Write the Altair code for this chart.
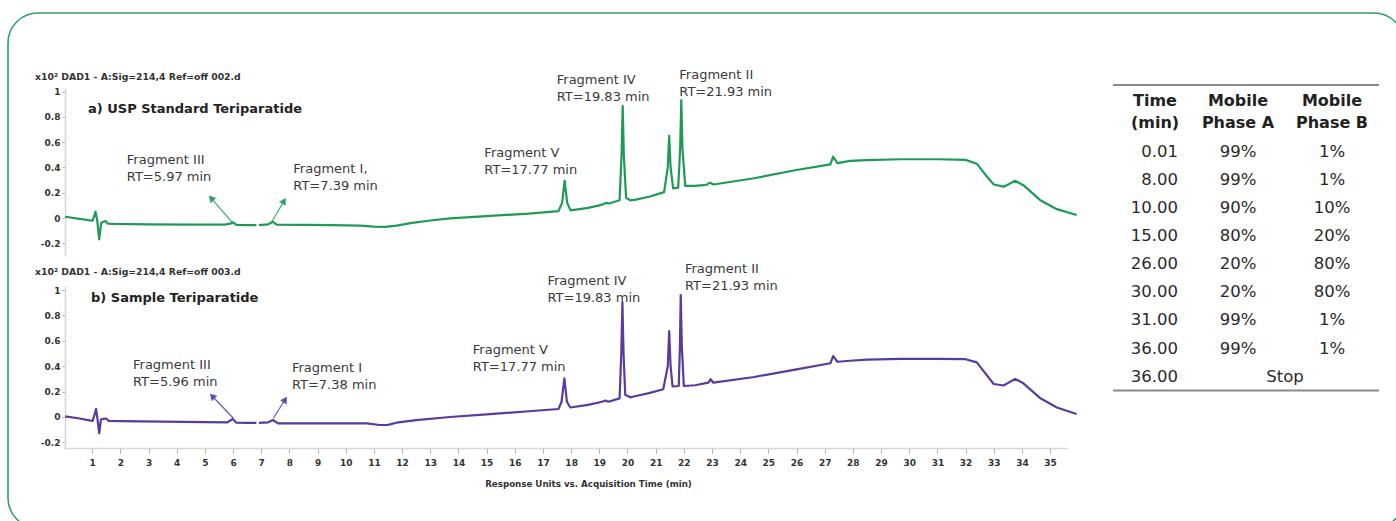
import altair as alt
import pandas as pd

# ---------------------------------------------------------------------------
# Chromatogram traces: acquisition time (min) and response (x10^2)
# ---------------------------------------------------------------------------
std_time = [0.04, 0.5, 0.95, 1.02, 1.12, 1.18, 1.25, 1.32, 1.40, 1.48, 1.56, 1.8,
            3.0, 4.5, 5.7, 5.9, 6.0, 6.12, 6.5, 6.83,
            6.92, 7.25, 7.41, 7.55, 8.5, 9.5, 10.5, 11.0, 11.4, 11.8, 12.3, 13.0,
            13.7, 15.0, 16.5, 17.55, 17.68, 17.77, 17.86, 17.98, 18.6, 19.0, 19.15,
            19.25, 19.35, 19.72, 19.79, 19.83, 19.87, 19.95, 20.1, 20.3, 20.8, 21.3,
            21.43, 21.48, 21.53, 21.62, 21.8, 21.87, 21.91, 21.95, 22.05, 22.4, 22.8,
            22.93, 23.05, 24.5, 26.0, 27.2, 27.3, 27.45, 27.9, 28.5, 29.7, 31.0,
            32.0, 32.4, 32.75, 33.0, 33.35, 33.55, 33.76, 34.05, 34.64, 35.24, 35.94]
std_signal = [0.01, -0.005, -0.02, -0.02, 0.05, -0.02, -0.17, -0.04, -0.03, -0.025, -0.045, -0.047,
              -0.05, -0.052, -0.053, -0.045, -0.034, -0.055, -0.057, -0.057,
              -0.057, -0.05, -0.03, -0.053, -0.055, -0.057, -0.06, -0.068, -0.07, -0.06, -0.04, -0.02,
              -0.003, 0.015, 0.035, 0.055, 0.12, 0.295, 0.12, 0.06, 0.08, 0.1, 0.11,
              0.12, 0.115, 0.14, 0.5, 0.887, 0.5, 0.16, 0.14, 0.145, 0.17, 0.205,
              0.4, 0.65, 0.4, 0.235, 0.24, 0.55, 0.934, 0.55, 0.255, 0.255, 0.262,
              0.28, 0.265, 0.315, 0.38, 0.425, 0.485, 0.435, 0.452, 0.458, 0.465, 0.465,
              0.46, 0.43, 0.33, 0.265, 0.248, 0.27, 0.295, 0.26, 0.143, 0.07, 0.024]

smp_time = [0.04, 0.5, 0.95, 1.02, 1.14, 1.19, 1.25, 1.31, 1.40, 1.50, 1.58, 2.0,
            3.5, 5.0, 5.8, 5.99, 6.12, 6.5, 6.83,
            6.92, 7.25, 7.41, 7.6, 9.0, 10.75, 11.2, 11.5, 11.8, 12.5, 13.7,
            15.0, 16.5, 17.55, 17.66, 17.76, 17.85, 17.97, 18.6, 19.1, 19.22, 19.32,
            19.72, 19.78, 19.82, 19.86, 19.92, 20.1, 20.3, 20.8, 21.27, 21.43, 21.48,
            21.53, 21.6, 21.82, 21.86, 21.89, 21.93, 22.0, 22.4, 22.87, 22.95, 23.05,
            24.5, 26.0, 27.2, 27.3, 27.45, 27.9, 28.5, 29.7, 31.0, 32.0, 32.4, 32.75,
            33.0, 33.35, 33.76, 34.05, 34.64, 35.24, 35.94]
smp_signal = [0.005, -0.01, -0.028, -0.03, 0.063, -0.02, -0.128, -0.02, -0.015, -0.012, -0.03, -0.032,
              -0.037, -0.04, -0.042, -0.016, -0.045, -0.047, -0.047,
              -0.047, -0.042, -0.024, -0.05, -0.05, -0.05, -0.063, -0.062, -0.045, -0.025, 0.0,
              0.02, 0.045, 0.063, 0.12, 0.305, 0.12, 0.075, 0.095, 0.12, 0.13, 0.12,
              0.147, 0.5, 0.9, 0.5, 0.175, 0.155, 0.165, 0.19, 0.218, 0.4, 0.677,
              0.4, 0.24, 0.244, 0.55, 0.96, 0.55, 0.244, 0.25, 0.27, 0.297, 0.27,
              0.315, 0.375, 0.423, 0.48, 0.435, 0.443, 0.452, 0.458, 0.458, 0.455, 0.43, 0.33,
              0.26, 0.248, 0.3, 0.265, 0.15, 0.075, 0.024]

# Peak labels (position of the first text line) and arrows to the minor fragments
std_labels = ["Fragment III\nRT=5.97 min", "Fragment I,\nRT=7.39 min",
              "Fragment V\nRT=17.77 min", "Fragment IV\nRT=19.83 min",
              "Fragment II\nRT=21.93 min"]
std_label_t = [2.23, 8.14, 14.92, 17.49, 21.84]
std_label_v = [0.459, 0.386, 0.517, 1.093, 1.132]

smp_labels = ["Fragment III\nRT=5.96 min", "Fragment I\nRT=7.38 min",
              "Fragment V\nRT=17.77 min", "Fragment IV\nRT=19.83 min",
              "Fragment II\nRT=21.93 min"]
smp_label_t = [2.45, 8.09, 14.51, 17.16, 22.04]
smp_label_v = [0.409, 0.388, 0.528, 1.073, 1.163]

std_arrow_t0 = [6.0, 7.38]
std_arrow_v0 = [-0.04, -0.03]
std_arrow_t1 = [5.22, 7.81]
std_arrow_v1 = [0.158, 0.135]
std_arrow_angle = [318, 31]

smp_arrow_t0 = [6.01, 7.43]
smp_arrow_v0 = [-0.01, -0.01]
smp_arrow_t1 = [5.26, 7.85]
smp_arrow_v1 = [0.165, 0.138]
smp_arrow_angle = [316, 33]

# Gradient program table
grad_time = ["0.01", "8.00", "10.00", "15.00", "26.00", "30.00", "31.00", "36.00", "36.00"]
grad_a = ["99%", "99%", "90%", "80%", "20%", "20%", "99%", "99%", ""]
grad_b = ["1%", "1%", "10%", "20%", "80%", "80%", "1%", "1%", ""]
grad_note = ["", "", "", "", "", "", "", "", "Stop"]

y_ticks = [-0.2, 0, 0.2, 0.4, 0.6, 0.8, 1]
x_ticks = list(range(1, 36))

GREEN = "#1f9a56"
PURPLE = "#5a3b9c"
BORDER = "#2aa06a"
FONT = "DejaVu Sans"
TXT = "#3a3a3a"

one = pd.DataFrame({"k": [0]})

y_label_expr = ("abs(datum.value) < 1e-9 ? '0' : abs(datum.value - 1) < 1e-9 ? '1' : "
                "(datum.value < 0 ? '-' + format(-datum.value, '.1f') : format(datum.value, '.1f'))")


def y_axis():
    return alt.Axis(orient="left", offset=-65, values=y_ticks, labelExpr=y_label_expr,
                    grid=False, title=None, domainColor="#d6d6d6", domainWidth=1.5,
                    tickColor="#b0b0b0", tickSize=3, labelPadding=2, labelFont=FONT,
                    labelFontSize=9, labelFontWeight="bold", labelColor="#333333")


def panel(time, signal, labels, lt, lv, a_t0, a_v0, a_t1, a_v1, a_ang, color,
          y_domain, y_range, show_x):
    xs = alt.Scale(domain=[0, 35.6], range=[64, 1067], nice=False, zero=False)
    ys = alt.Scale(domain=y_domain, range=y_range, nice=False, zero=False)
    if show_x:
        xax = alt.Axis(orient="bottom", offset=-73, values=x_ticks, format="d", grid=False,
                       domainColor="#d6d6d6", domainWidth=1.5, tickColor="#b0b0b0",
                       tickSize=5, labelPadding=5, labelFont=FONT, labelFontSize=9,
                       labelFontWeight="bold", labelColor="#333333", labelOverlap=False,
                       labelFlush=False,
                       title="Response Units vs. Acquisition Time (min)",
                       titleX=588, titleY=35, titleBaseline="middle", titleFont=FONT,
                       titleFontSize=8.7, titleFontWeight="bold", titleColor="#333333")
    else:
        xax = None

    def X(f):
        if xax is None:
            return alt.X(f, type="quantitative", scale=xs, axis=None)
        return alt.X(f, type="quantitative", scale=xs, axis=xax)

    def Y(f):
        return alt.Y(f, type="quantitative", scale=ys, axis=y_axis())

    trace = pd.DataFrame({"t": time, "v": signal})
    trace["seg"] = [0 if t < 6.87 else 1 for t in time]
    line = alt.Chart(trace).mark_line(color=color, strokeWidth=2.2, clip=False,
                                      strokeJoin="round").encode(
        x=X("t"), y=Y("v"), detail="seg:N")

    lab = pd.DataFrame({"label": labels, "t": lt, "v": lv})
    text = alt.Chart(lab).mark_text(align="left", baseline="middle", lineBreak="\n",
                                    lineHeight=17, font=FONT, fontSize=13, color=TXT,
                                    clip=False).encode(x=X("t"), y=Y("v"), text="label:N")

    arr = pd.DataFrame({"t0": a_t0, "v0": a_v0, "t1": a_t1, "v1": a_v1, "ang": a_ang})
    shaft = alt.Chart(arr).mark_rule(color=color, strokeWidth=1.2, opacity=0.85).encode(
        x=X("t0"), y=Y("v0"), x2="t1:Q", y2="v1:Q")
    head = alt.Chart(arr).mark_point(shape="triangle-up", filled=True, size=60,
                                     color=color, opacity=0.9).encode(
        x=X("t1"), y=Y("v1"), angle=alt.Angle("ang:Q", scale=None))

    return alt.layer(line, shaft, head, text)


top = panel(std_time, std_signal, std_labels, std_label_t, std_label_v,
            std_arrow_t0, std_arrow_v0, std_arrow_t1, std_arrow_v1, std_arrow_angle,
            GREEN, [-0.3, 1.03], [255.9, 87.9], False)
bottom = panel(smp_time, smp_signal, smp_labels, smp_label_t, smp_label_v,
               smp_arrow_t0, smp_arrow_v0, smp_arrow_t1, smp_arrow_v1, smp_arrow_angle,
               PURPLE, [-0.245, 1.03], [448.1, 286.2], True)

# Gradient table
rows = pd.DataFrame({"row": list(range(len(grad_time))), "time": grad_time,
                     "a": grad_a, "b": grad_b, "note": grad_note})
ry = alt.Y("row:Q", scale=alt.Scale(domain=[0, 8], range=[151.7, 376.7], nice=False,
                                    zero=False), axis=None)
tbl_base = alt.Chart(rows)
tbl_kw = dict(font=FONT, fontSize=16.5, color="#2a2a2a", baseline="middle")
col_time = tbl_base.mark_text(align="right", **tbl_kw).encode(
    x=alt.value(1178), y=ry, text="time:N")
col_a = tbl_base.mark_text(align="center", **tbl_kw).encode(
    x=alt.value(1238), y=ry, text="a:N")
col_b = tbl_base.mark_text(align="center", **tbl_kw).encode(
    x=alt.value(1332), y=ry, text="b:N")
col_note = tbl_base.mark_text(align="center", **tbl_kw).encode(
    x=alt.value(1285), y=ry, text="note:N")
table = alt.layer(col_time, col_a, col_b, col_note)

hdr_kw = dict(font=FONT, fontSize=16, fontWeight="bold", color="#222222",
              baseline="middle", align="center", lineBreak="\n", lineHeight=22)
hdr_time = alt.Chart(one).mark_text(text="Time\n(min)", **hdr_kw).encode(
    x=alt.value(1155), y=alt.value(100.7))
hdr_a = alt.Chart(one).mark_text(text="Mobile\nPhase A", **hdr_kw).encode(
    x=alt.value(1238), y=alt.value(100.7))
hdr_b = alt.Chart(one).mark_text(text="Mobile\nPhase B", **hdr_kw).encode(
    x=alt.value(1332), y=alt.value(100.7))
rule_top = alt.Chart(one).mark_rule(color="#8a8a8a", strokeWidth=2).encode(
    x=alt.value(1113), x2=alt.value(1379), y=alt.value(85))
rule_bot = alt.Chart(one).mark_rule(color="#8a8a8a", strokeWidth=2).encode(
    x=alt.value(1113), x2=alt.value(1379), y=alt.value(390.5))

# Instrument headers and panel titles
info_kw = dict(font=FONT, fontSize=9.3, fontWeight="bold", color="#333333",
               align="left", baseline="middle")
info_a = alt.Chart(one).mark_text(text="x10\u00b2  DAD1 - A:Sig=214,4  Ref=off 002.d",
                                  **info_kw).encode(x=alt.value(35), y=alt.value(77))
info_b = alt.Chart(one).mark_text(text="x10\u00b2  DAD1 - A:Sig=214,4  Ref=off 003.d",
                                  **info_kw).encode(x=alt.value(35), y=alt.value(272))
ttl_kw = dict(font=FONT, fontSize=13, fontWeight="bold", color="#222222",
              align="left", baseline="middle")
title_a = alt.Chart(one).mark_text(text="a) USP Standard Teriparatide", **ttl_kw).encode(
    x=alt.value(88), y=alt.value(109))
title_b = alt.Chart(one).mark_text(text="b) Sample Teriparatide", **ttl_kw).encode(
    x=alt.value(91), y=alt.value(298))

frame = alt.Chart(one).mark_rect(fillOpacity=0, stroke=BORDER, strokeWidth=1.6,
                                 cornerRadius=30).encode(
    x=alt.value(8), x2=alt.value(1404), y=alt.value(13), y2=alt.value(528))

chart = alt.layer(
    top, bottom, table,
    hdr_time, hdr_a, hdr_b, rule_top, rule_bot,
    info_a, info_b, title_a, title_b, frame,
).resolve_scale(x="independent", y="independent").properties(
    width=1396, height=521, padding=0,
    autosize=alt.AutoSizeParams(type="none"),
    background="white",
).configure_view(strokeWidth=0)

chart.save("out.html", embed_options={"renderer": "svg", "actions": False})
